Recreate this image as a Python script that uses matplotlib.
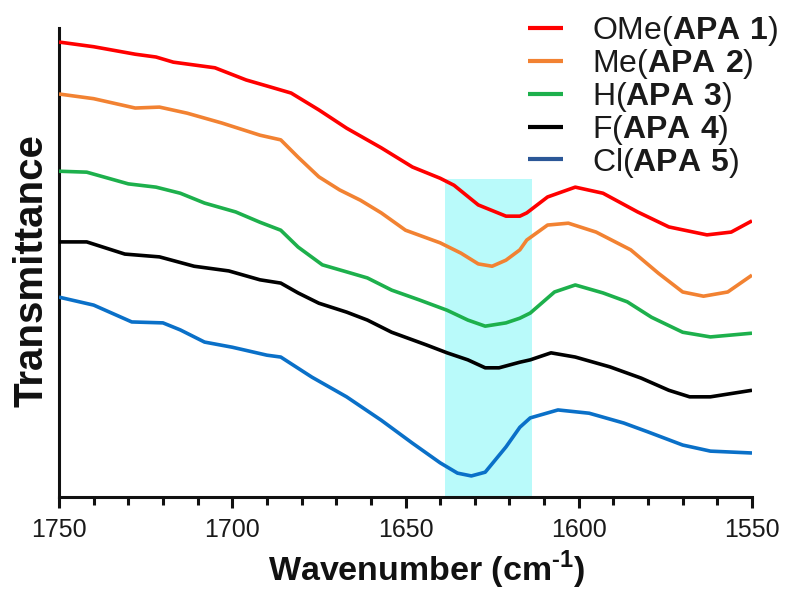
import matplotlib
matplotlib.use("Agg")
import matplotlib.pyplot as plt
from matplotlib.ticker import MultipleLocator

plt.rcParams["font.family"] = ["Liberation Sans", "DejaVu Sans"]
plt.rcParams["mathtext.fontset"] = "custom"
plt.rcParams["mathtext.rm"] = "Liberation Sans:bold"
plt.rcParams["mathtext.bf"] = "Liberation Sans:bold"

# ---------------- data ----------------
substituents = ["OMe", "Me", "H", "F", "Cl"]
compounds = ["APA 1", "APA 2", "APA 3", "APA 4", "APA 5"]
line_colors = ["#FF0000", "#F28232", "#1DB04C", "#000000", "#0A70C8"]
legend_cl_color = "#2B5797"

red_x = [1750, 1740, 1728, 1722, 1717, 1705, 1696, 1689, 1683, 1675, 1667, 1657, 1648, 1640,
         1636, 1629, 1621, 1617, 1615, 1609, 1601, 1593, 1583, 1574, 1563, 1556, 1550]
red_y = [97.0, 96.0, 94.4, 93.8, 92.7, 91.5, 88.9, 87.4, 86.1, 82.5, 78.6, 74.4, 70.3, 67.9,
         66.4, 62.2, 59.8, 59.8, 60.5, 63.9, 66.0, 64.7, 60.7, 57.5, 55.8, 56.4, 58.8]

orange_x = [1750, 1740, 1728, 1721, 1713, 1703, 1692, 1686, 1681, 1675, 1669, 1663, 1657, 1650,
            1640, 1634, 1629, 1625, 1621, 1617, 1615, 1609, 1603, 1595, 1585, 1577, 1570, 1564,
            1557, 1550]
orange_y = [85.9, 84.9, 82.9, 83.1, 81.8, 79.7, 77.1, 76.1, 72.4, 68.2, 65.4, 63.2, 60.5, 56.8,
            54.1, 51.9, 49.6, 49.1, 50.4, 52.6, 54.7, 57.9, 58.3, 56.4, 52.6, 47.6, 43.6, 42.7,
            43.6, 47.2]

green_x = [1750, 1742, 1730, 1722, 1715, 1708, 1699, 1692, 1686, 1681, 1674, 1667, 1661, 1654,
           1646, 1638, 1632, 1627, 1621, 1617, 1614, 1607, 1601, 1593, 1586, 1579, 1570, 1562,
           1550]
green_y = [69.4, 69.2, 66.7, 66.0, 64.7, 62.6, 60.7, 58.5, 56.8, 53.2, 49.4, 47.9, 46.6, 44.0,
           41.9, 39.7, 37.6, 36.3, 37.0, 38.0, 39.1, 43.6, 45.1, 43.4, 41.5, 38.2, 35.0, 34.0,
           34.8]

black_x = [1750, 1742, 1731, 1721, 1711, 1701, 1692, 1686, 1681, 1675, 1667, 1661, 1654, 1644,
           1638, 1632, 1627, 1623, 1617, 1614, 1608, 1601, 1591, 1582, 1574, 1568, 1562, 1550]
black_y = [54.3, 54.3, 51.7, 51.1, 49.1, 48.1, 46.2, 45.5, 43.4, 41.2, 39.3, 37.6, 35.0, 32.3,
           30.6, 29.1, 27.4, 27.4, 28.6, 29.1, 30.6, 29.7, 27.6, 25.2, 22.6, 21.2, 21.2, 22.6]

blue_x = [1750, 1740, 1729, 1720, 1715, 1708, 1700, 1690, 1686, 1677, 1667, 1657, 1648, 1640,
          1635, 1631, 1627, 1621, 1617, 1614, 1606, 1597, 1587, 1580, 1570, 1562, 1550]
blue_y = [42.5, 40.8, 37.2, 37.0, 35.5, 32.9, 31.8, 30.1, 29.7, 25.4, 21.2, 16.2, 11.3, 7.1,
          4.9, 4.3, 5.1, 10.5, 14.7, 16.7, 18.4, 17.7, 15.6, 13.7, 10.9, 9.6, 9.2]

highlight_range = (1638.5, 1613.5)
highlight_top = 67.8
x_major_ticks = [1750, 1700, 1650, 1600, 1550]

series_x = [red_x, orange_x, green_x, black_x, blue_x]
series_y = [red_y, orange_y, green_y, black_y, blue_y]

# ---------------- figure ----------------
fig = plt.figure(figsize=(7.85, 5.91), dpi=100)
ax = fig.add_axes([59 / 785, 94 / 591, 693 / 785, 469 / 591])

ax.axvspan(highlight_range[0], highlight_range[1], ymin=0,
           ymax=(highlight_top + 0.2) / 100.2, color="#B9FAFA", lw=0, zorder=0)

lines = []
for xs, ys, c, s, cmp in zip(series_x, series_y, line_colors, substituents, compounds):
    label = s + "($\\mathbf{" + cmp.replace(" ", "\\ ") + "}$)"
    ln, = ax.plot(xs, ys, color=c, lw=2.6, solid_joinstyle="round",
                  solid_capstyle="butt", label=label, zorder=3)
    lines.append(ln)

ax.set_xlim(1750, 1550)
ax.set_ylim(-0.2, 100)

for sp in ["top", "right"]:
    ax.spines[sp].set_visible(False)
for sp in ["left", "bottom"]:
    ax.spines[sp].set_linewidth(2.2)
    ax.spines[sp].set_color("#111111")

ax.set_yticks([])
ax.set_xticks(x_major_ticks)
ax.xaxis.set_minor_locator(MultipleLocator(10))
ax.tick_params(axis="x", which="major", direction="out", length=8, width=2.2,
               pad=7, labelsize=18, colors="#111111")
ax.tick_params(axis="x", which="minor", direction="out", length=5.5, width=2.2,
               colors="#111111")
for t in ax.get_xticklabels():
    t.set_color("#1a1a1a")

ax.set_xlabel("Wavenumber (cm$^{\\text{-1}}$)", fontsize=24.5, fontweight="bold",
              color="#111111")
ax.xaxis.set_label_coords(0.530, -0.110)
ax.set_ylabel("Transmittance", fontsize=29, fontweight="bold", color="#111111")
ax.yaxis.set_label_coords(-0.012, 0.483)

leg = ax.legend(handles=lines, loc="upper left", bbox_to_anchor=(528 / 785, 0.976),
                bbox_transform=fig.transFigure, frameon=False, fontsize=23,
                handlelength=1.1, handletextpad=0.9, labelspacing=-0.036,
                borderpad=0, borderaxespad=0)
for h in leg.legend_handles:
    h.set_linewidth(3)
leg.legend_handles[4].set_color(legend_cl_color)
for t in leg.get_texts():
    t.set_color("#1a1a1a")

fig.savefig("out.png", dpi=100)
